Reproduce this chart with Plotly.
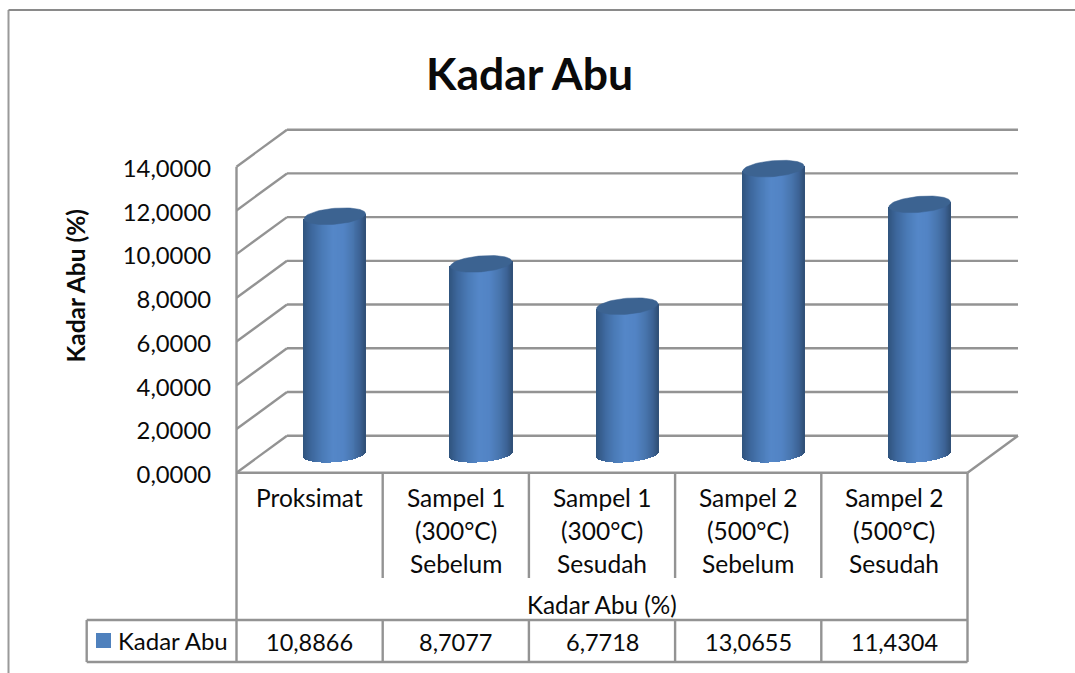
import numpy as np
import plotly.graph_objects as go

# ---------- data ----------
categories = ["Proksimat", "Sampel 1|(300°C)|Sebelum", "Sampel 1|(300°C)|Sesudah",
              "Sampel 2|(500°C)|Sebelum", "Sampel 2|(500°C)|Sesudah"]
values = [10.8866, 8.7077, 6.7718, 13.0655, 11.4304]
y_ticks = [0, 2, 4, 6, 8, 10, 12, 14]
series_name = "Kadar Abu"
group_label = "Kadar Abu (%)"
title_text = "Kadar Abu"

# ---------- page geometry (pixels) ----------
W, H = 1075, 673
X0, CELL = 236.5, 146.2      # left of the category band, width of a category
Y0, UNIT = 472.7, 21.857     # pixel of value 0, pixels per value unit
DX, DY = 50.5, 37.0          # depth of the 3-D box
TBL_SPLIT, TBL_ROW, TBL_BOT = 578.0, 620.0, 662.0
TBL_LEFT = 86.7
FONT = "Lato"
GREY = "#939393"
INK = "#0a0a0a"


def px_x(p):
    return (p - X0) / CELL - 0.5


def px_y(p):
    return (Y0 - p) / UNIT


n = len(categories)
dep_x, dep_y = DX / CELL, DY / UNIT
x_lo, x_hi = -0.5, n - 0.5
top_v = max(y_ticks)


def seg(x0, y0, x1, y1, color=GREY, width=2.4):
    return dict(type="line", xref="x", yref="y", layer="below", x0=x0, y0=y0, x1=x1, y1=y1,
                line=dict(color=color, width=width))


shapes = []
# grid: side wall + back wall
for v in y_ticks:
    shapes.append(seg(x_lo, v, x_lo + dep_x, v + dep_y))
    shapes.append(seg(x_lo + dep_x, v + dep_y, x_hi + dep_x, v + dep_y))
# floor
shapes.append(seg(x_hi, 0, x_hi + dep_x, dep_y))
shapes.append(seg(x_lo, 0, x_hi, 0))
# side wall front edge and table
shapes.append(seg(x_lo, top_v, x_lo, px_y(TBL_BOT)))
shapes.append(seg(x_hi, 0, x_hi, px_y(TBL_BOT)))
shapes.append(seg(px_x(TBL_LEFT), px_y(TBL_ROW), x_hi, px_y(TBL_ROW)))
shapes.append(seg(px_x(TBL_LEFT), px_y(TBL_BOT), x_hi, px_y(TBL_BOT)))
shapes.append(seg(px_x(TBL_LEFT), px_y(TBL_ROW), px_x(TBL_LEFT), px_y(TBL_BOT)))
for i in range(1, n):
    shapes.append(seg(i - 0.5, 0, i - 0.5, px_y(TBL_SPLIT)))
    shapes.append(seg(i - 0.5, px_y(TBL_ROW), i - 0.5, px_y(TBL_BOT)))
# outer frame
shapes.append(dict(type="line", xref="paper", yref="paper", layer="below", x0=8.5 / W, x1=8.5 / W,
                   y0=0, y1=1 - 10 / H, line=dict(color="#9a9a9a", width=2)))
shapes.append(dict(type="line", xref="paper", yref="paper", layer="below", x0=8.5 / W, x1=1,
                   y0=1 - 10 / H, y1=1 - 10 / H, line=dict(color="#8a8a8a", width=2)))
# legend key
shapes.append(dict(type="rect", xref="x", yref="y", layer="below", x0=px_x(96), x1=px_x(111),
                   y0=px_y(648), y1=px_y(633), fillcolor="#4f81bd", line=dict(width=0)))

# ---------- cylinders ----------
radius = 30.8 / CELL
cx_shift = dep_x / 2
base_c = dep_y / 2
cap_b = 8.0 / UNIT
tilt = 2.5 / UNIT
stops_u = [-1.0, -0.75, -0.4, -0.05, 0.3, 0.62, 0.85, 1.0]
stops_rgb = [(48, 84, 126), (60, 102, 155), (74, 122, 182), (84, 135, 200),
             (82, 131, 196), (71, 116, 172), (60, 98, 148), (48, 80, 120)]
us = np.linspace(-0.992, 0.992, 63)
chan = [np.interp(us, stops_u, [c[k] for c in stops_rgb]) for k in range(3)]
strip_col = [f"rgb({r:.0f},{g:.0f},{b:.0f})" for r, g, b in zip(*chan)]
strip_w = 2 * radius / len(us) * 1.15

bx, bbase, bh, bcol = [], [], [], []
cap_x, cap_y = [], []
ts = np.linspace(0, 2 * np.pi, 73)
for i, v in enumerate(values):
    cx = i + cx_shift
    for u, col in zip(us, strip_col):
        low = base_c + tilt * u - cap_b * np.sqrt(1 - u * u)
        mid = base_c + tilt * u
        bx.append(cx + u * radius)
        bbase.append(low)
        bh.append(v + mid - low)
        bcol.append(col)
    cap_x += list(cx + radius * np.cos(ts)) + [None]
    cap_y += list(v + base_c + tilt * np.cos(ts) + cap_b * np.sin(ts)) + [None]

fig = go.Figure()
fig.add_trace(go.Bar(x=bx, y=bh, base=bbase, width=strip_w, marker=dict(color=bcol, line=dict(width=0)),
                     showlegend=False, hoverinfo="skip", name=series_name))
fig.add_trace(go.Scatter(x=cap_x, y=cap_y, mode="lines", fill="toself", fillcolor="#3c6391",
                         line=dict(width=0.5, color="#3c6391"), showlegend=False, hoverinfo="skip"))

# ---------- text ----------
ann = []


def label(x, y, text, size=24.5, bold=False, angle=0, xanchor="center"):
    ann.append(dict(x=x, y=y, xref="x", yref="y", text=f"<b>{text}</b>" if bold else text, showarrow=False,
                    xanchor=xanchor, yanchor="middle", textangle=angle,
                    font=dict(family=FONT, size=size, color=INK)))


label(px_x(529), px_y(72.5), title_text, size=44.5, bold=True)
label(px_x(75), px_y(286.5), group_label, size=24.5, bold=True, angle=-90)
label(px_x(602), px_y(604), group_label, size=24.3)
label(px_x(115.5), px_y(640.5), series_name, size=24, xanchor="left")
line_h = 33.0
for i, c in enumerate(categories):
    for j, part in enumerate(c.split("|")):
        label(i, px_y(497.5 + j * line_h), part)
    label(i, px_y(641.5), f"{values[i]:.4f}".replace(".", ","), size=23.5)

fig.update_layout(
    width=W, height=H, margin=dict(l=0, r=0, t=0, b=0), autosize=False,
    paper_bgcolor="white", plot_bgcolor="white", barmode="overlay", bargap=0,
    showlegend=False, shapes=shapes, annotations=ann,
    xaxis=dict(range=[px_x(0), px_x(W)], domain=[0, 1], visible=False, fixedrange=True),
    yaxis=dict(range=[px_y(H), px_y(0)], domain=[0, 1], anchor="free", position=211 / W, side="left",
               tickmode="array", tickvals=y_ticks,
               ticktext=[f"{t:.4f}".replace(".", ",") for t in y_ticks],
               ticklabelshift=2,
               showgrid=False, zeroline=False, showline=False, ticks="",
               tickfont=dict(family=FONT, size=23.8, color=INK), fixedrange=True),
)

fig.write_html("out.html", post_script="document.body.style.margin='0';",
               config=dict(displayModeBar=False))
